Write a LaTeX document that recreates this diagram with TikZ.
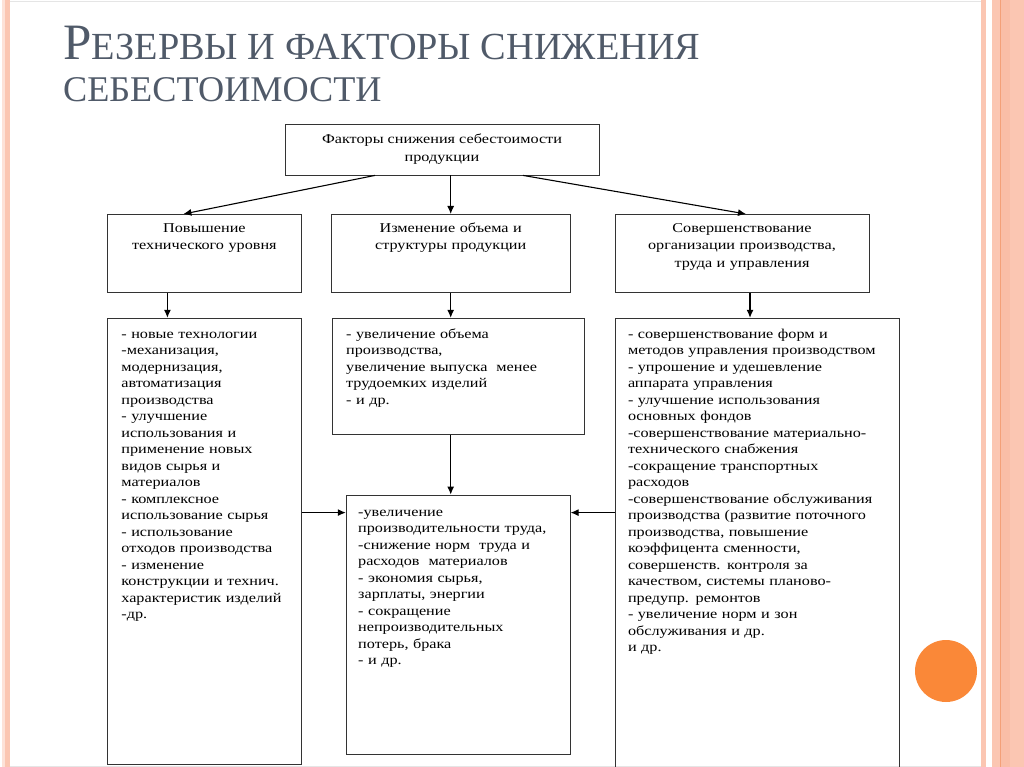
\documentclass[tikz,border=0pt]{standalone}
\usepackage{fontspec}
\setmainfont{Liberation Serif}
\newfontfamily\boxfont[FakeStretch=1.2]{Liberation Serif}
\newfontfamily\titlefont{Liberation Serif}
\usetikzlibrary{arrows.meta,positioning}
\definecolor{titlegray}{RGB}{80,90,105}
\definecolor{framesalmon}{RGB}{251,198,178}
\definecolor{frameline}{RGB}{244,160,120}
\definecolor{dotorange}{RGB}{250,136,56}

\begin{document}
\begin{tikzpicture}[x=1pt,y=1pt,
    font=\boxfont\fontsize{13.5}{16.5}\selectfont,
    box/.style={draw=black!80,line width=0.8pt},
    headbox/.style={box,align=center,inner xsep=6pt,inner ysep=5pt,text height=13pt,text depth=55pt,
      font=\boxfont\fontsize{13.5}{17.5}\selectfont},
    listbox/.style={box,align=left,inner xsep=14pt,inner ysep=5pt,text height=15pt},
    arrow/.style={-{Latex[length=8pt,width=7pt]},line width=1.1pt}
  ]
    \useasboundingbox (0,0) rectangle (1024,-767);

    % slide frame
    \fill[framesalmon!50] (2,0) rectangle (5,-767);
    \fill[framesalmon] (5,0) rectangle (10,-767);
    \fill[framesalmon] (981,0) rectangle (986,-767);
    \fill[framesalmon] (992,0) rectangle (1024,-767);
    \fill[framesalmon!80!frameline] (1001,0) rectangle (1010,-767);
    \draw[frameline,line width=1pt] (1000,0) -- (1000,-767);
    \draw[black!10,line width=0.6pt] (10,-1) -- (981,-1);
    \draw[black!10,line width=0.6pt] (10,-766) -- (981,-766);
    \fill[dotorange] (946,-671) circle (31pt);

    \node[anchor=base west,align=left,inner sep=0pt,text=titlegray,
      font=\titlefont\fontsize{36.2}{42}\selectfont] (title) at (63,-102)
      {{\fontsize{51}{42}\selectfont Р}{\fontsize{38.3}{42}\selectfont ЕЗЕРВЫ И ФАКТОРЫ СНИЖЕНИЯ}\\СЕБЕСТОИМОСТИ};

    \node[box,minimum width=314pt,minimum height=51pt,align=center,
      font=\boxfont\fontsize{13.5}{18}\selectfont] (factors) at (442,-149.5)
      {Факторы снижения себестоимости\\продукции};

    \node[headbox,text width=182pt,anchor=north west] (tech) at (107,-214)
      {Повышение\\технического уровня};
    \node[headbox,text width=227pt,right=29pt of tech] (vol)
      {Изменение объема и\\структуры продукции};
    \node[headbox,text width=242pt,right=44pt of vol] (org)
      {Совершенствование\\организации производства,\\труда и управления};

    \node[listbox,text width=166pt,text depth=421pt,below=25pt of tech] (techlist)
      {- новые технологии\\
       -механизация,\\
       модернизация,\\
       автоматизация\\
       производства\\
       - улучшение\\
       использования и\\
       применение новых\\
       видов сырья и\\
       материалов\\
       - комплексное\\
       использование сырья\\
       - использование\\
       отходов производства\\
       - изменение\\
       конструкции и технич.\\
       характеристик изделий\\
       -др.};
    \node[listbox,text width=224pt,text depth=91pt,below=25pt of vol.south west,
      anchor=north west,xshift=1pt] (vollist)
      {- увеличение объема\\
       производства,\\
       увеличение выпуска~~менее\\
       трудоемких изделий\\
       - и др.};
    \node[listbox,inner xsep=13pt,text width=258pt,text depth=438pt,below=25pt of org.south west,
      anchor=north west] (orglist)
      {- совершенствование форм и\\
       методов управления производством\\
       - упрошение и удешевление\\
       аппарата управления\\
       - улучшение использования\\
       основных фондов\\
       -совершенствование материально-\\
       технического снабжения\\
       -сокращение транспортных\\
       расходов\\
       -совершенствование обслуживания\\
       производства (развитие поточного\\
       производства, повышение\\
       коэффицента сменности,\\
       совершенств. контроля за\\
       качеством, системы планово-\\
       предупр. ремонтов\\
       - увеличение норм и зон\\
       обслуживания и др.\\
       и др.};
    \node[listbox,inner xsep=12pt,text width=200pt,text height=16pt,text depth=233pt,
      below=60pt of vollist.south west,anchor=north west,xshift=14pt] (efflist)
      {-увеличение\\
       производительности труда,\\
       -снижение норм~~труда и\\
       расходов~~материалов\\
       - экономия сырья,\\
       зарплаты, энергии\\
       - сокращение\\
       непроизводительных\\
       потерь, брака\\
       - и др.};

    \coordinate (techout) at ([xshift=-37pt]tech.south);
    \coordinate (orgout) at ([xshift=8pt]org.south);
    \coordinate (effleft) at ([yshift=-18pt]efflist.north west);
    \coordinate (effright) at ([yshift=-18pt]efflist.north east);

    \draw[arrow] ([xshift=-67pt]factors.south) -- ([xshift=-21pt]tech.north);
    \draw[arrow] (factors.south -| vol.north) -- (vol.north);
    \draw[arrow] ([xshift=81pt]factors.south) -- ([xshift=4pt]org.north);
    \draw[arrow] (techout) -- (techout |- techlist.north);
    \draw[arrow] (vol.south) -- (vol.south |- vollist.north);
    \draw[arrow] (orgout) -- (orgout |- orglist.north);
    \draw[arrow] (vollist.south -| vol.south) -- (efflist.north -| vol.south);
    \draw[arrow] (techlist.east |- effleft) -- (effleft);
    \draw[arrow] (orglist.west |- effright) -- (effright);
  \end{tikzpicture}
\end{document}
